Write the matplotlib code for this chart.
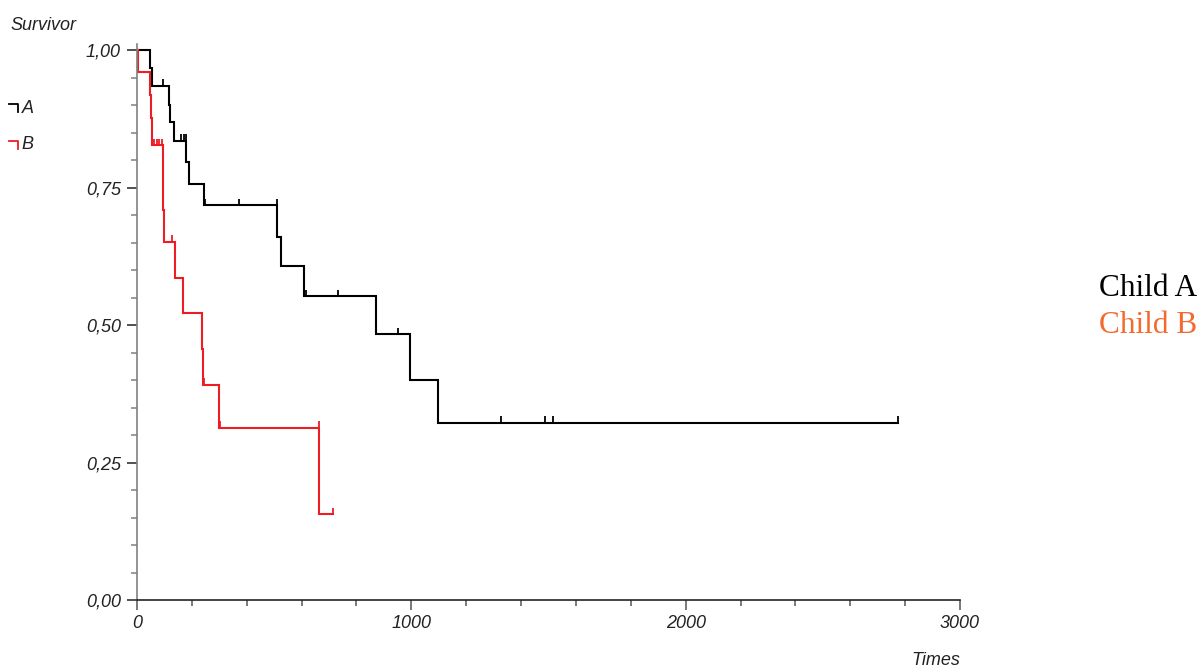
import matplotlib
matplotlib.use("Agg")
import matplotlib.pyplot as plt
from matplotlib.lines import Line2D
import numpy as np

# ---- data ----
times_a = [0, 47, 54, 117, 120, 135, 179, 191, 246, 510, 524, 610, 871, 994, 1099]
surv_a = [1.0, 0.968, 0.935, 0.90, 0.87, 0.835, 0.797, 0.756, 0.718, 0.66, 0.607, 0.552, 0.483, 0.40, 0.322]
end_a = 2774
cens_a_t = [94, 161, 170, 178, 248, 370, 509, 616, 731, 950, 1328, 1489, 1517, 2774]
cens_a_s = [0.935, 0.835, 0.835, 0.835, 0.718, 0.718, 0.718, 0.552, 0.552, 0.483, 0.322, 0.322, 0.322, 0.322]

times_b = [0, 3, 47, 50, 54, 96, 100, 140, 169, 236, 242, 299, 662]
surv_b = [1.0, 0.96, 0.918, 0.876, 0.827, 0.709, 0.651, 0.586, 0.521, 0.456, 0.391, 0.313, 0.156]
end_b = 714
cens_b_t = [63, 72, 80, 92, 127, 245, 304, 662, 714]
cens_b_s = [0.827, 0.827, 0.827, 0.827, 0.651, 0.391, 0.313, 0.313, 0.156]

x_major = [0, 1000, 2000, 3000]
x_labels = ["0", "1000", "2000", "3000"]
y_major = [0.0, 0.25, 0.5, 0.75, 1.0]
y_labels = ["0,00", "0,25", "0,50", "0,75", "1,00"]
series_names = ["Child A", "Child B"]
legend_letters = ["A", "B"]

# ---- style ----
col_a = "#000000"
col_b = "#EE1C24"
col_b_label = "#F26A2E"
txt = "#222222"
W, H = 1203, 669

plt.rcParams['font.family'] = ['Liberation Sans', 'DejaVu Sans']
fig = plt.figure(figsize=(W / 100, H / 100), dpi=100)

left, right = 137 / W, 960 / W
bottom = 1 - 600 / H
top = 1 - 44 / H
ax = fig.add_axes([left, bottom, right - left, top - bottom])
ax.set_xlim(0, 3000)
ax.set_ylim(0, 1.011)

def km(ax, t, s, end, color):
    xs = list(t) + [end]
    ys = list(s) + [s[-1]]
    ax.plot(xs, ys, drawstyle='steps-post', color=color, lw=1.5, clip_on=False,
            solid_joinstyle='miter')

km(ax, times_a, surv_a, end_a, col_a)
km(ax, times_b, surv_b, end_b, col_b)
tick_h = 0.012
ax.vlines(cens_a_t, np.array(cens_a_s), np.array(cens_a_s) + tick_h, color=col_a, lw=1.3, clip_on=False)
ax.vlines(cens_b_t, np.array(cens_b_s), np.array(cens_b_s) + tick_h, color=col_b, lw=1.3, clip_on=False)

for sp in ['top', 'right']:
    ax.spines[sp].set_visible(False)
ax.spines['left'].set_color('#808080')
ax.spines['left'].set_linewidth(1.2)
ax.spines['bottom'].set_color('#222222')
ax.spines['bottom'].set_linewidth(1.2)

ax.set_xticks(x_major)
ax.set_xticklabels(x_labels)
ax.set_xticks(np.arange(0, 3001, 200), minor=True)
ax.set_yticks(y_major)
ax.set_yticklabels(y_labels)
ax.set_yticks(np.arange(0, 1.001, 0.05), minor=True)

ax.tick_params(axis='x', which='major', length=7.5, width=1.1, color='#555555', pad=3,
               labelsize=13, labelcolor=txt)
ax.tick_params(axis='x', which='minor', length=4.3, width=1.1, color='#555555')
ax.tick_params(axis='y', which='major', length=7.5, width=1.1, color='#222222', pad=4,
               labelsize=13, labelcolor=txt)
ax.tick_params(axis='y', which='minor', length=4.3, width=1.1, color='#808080')
for lab in ax.get_xticklabels() + ax.get_yticklabels():
    lab.set_fontstyle('italic')

# axis titles
fig.text(10 / W, 1 - 30 / H, "Survivor", fontsize=13, style='italic', color=txt,
         ha='left', va='baseline')
fig.text(960 / W, 1 - 665 / H, "Times", fontsize=13, style='italic', color=txt,
         ha='right', va='baseline')

# small legend top-left
for i, (letter, c) in enumerate(zip(legend_letters, [col_a, col_b])):
    yt = 104.3 + i * 36.4
    fig.lines.append(Line2D([9.3 / W, 18.3 / W, 18.3 / W],
                            [1 - yt / H, 1 - yt / H, 1 - (yt + 8) / H],
                            color=c, lw=1.3, transform=fig.transFigure))
    fig.text(21.5 / W, 1 - (yt + 8.5) / H, letter, fontsize=13, style='italic',
             color=txt, ha='left', va='baseline')

# right labels
fig.text(1099 / W, 1 - 296 / H, series_names[0], fontsize=22.5, color='#000000',
         family=['Liberation Serif', 'DejaVu Serif'], ha='left', va='baseline')
fig.text(1099 / W, 1 - 333 / H, series_names[1], fontsize=22.5, color=col_b_label,
         family=['Liberation Serif', 'DejaVu Serif'], ha='left', va='baseline')

fig.savefig("out.png", dpi=100)
